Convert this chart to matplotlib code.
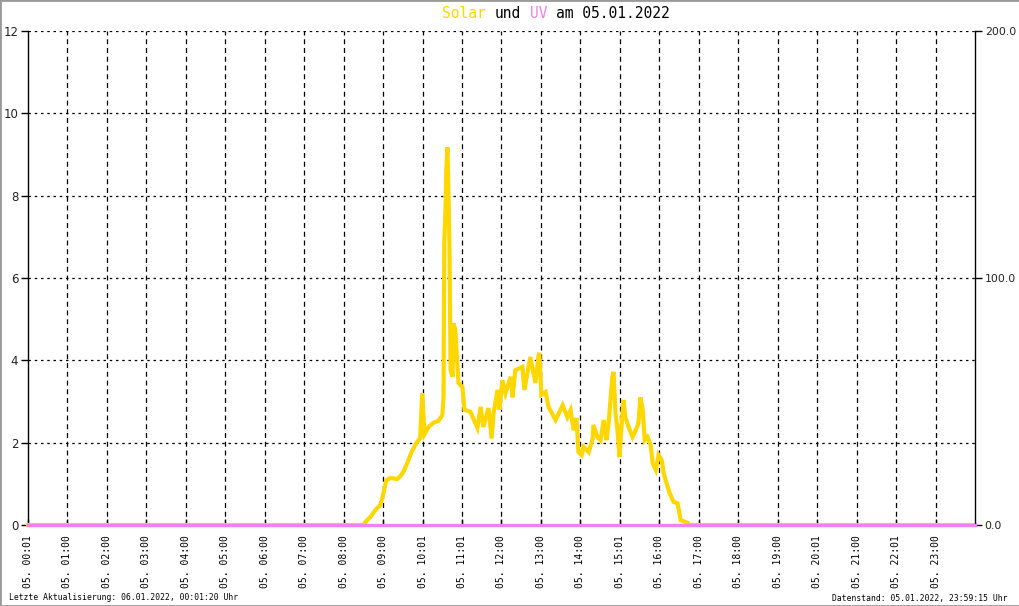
import matplotlib
matplotlib.use("Agg")
import matplotlib.pyplot as plt
from matplotlib.patches import Rectangle

# ---- data ----
solar_hours = [0.0, 8.50, 8.55, 8.68, 8.80, 8.93, 9.01, 9.08, 9.18, 9.36, 9.44, 9.51, 9.61,
               9.72, 9.84, 9.94, 9.99, 10.05, 10.10, 10.15, 10.27, 10.40, 10.50, 10.53,
               10.55, 10.58, 10.60, 10.63, 10.65, 10.68, 10.71, 10.76, 10.78, 10.83,
               10.88, 10.91, 11.01, 11.06, 11.21, 11.39, 11.47, 11.54, 11.67, 11.75,
               11.80, 11.90, 11.95, 12.02, 12.10, 12.23, 12.28, 12.35, 12.53, 12.58,
               12.73, 12.86, 12.94, 12.96, 13.01, 13.12, 13.19, 13.37, 13.55, 13.67,
               13.75, 13.83, 13.90, 13.95, 14.03, 14.08, 14.21, 14.31, 14.33, 14.43,
               14.51, 14.59, 14.66, 14.71, 14.81, 14.84, 14.89, 14.94, 14.99, 15.04,
               15.09, 15.14, 15.22, 15.32, 15.40, 15.47, 15.52, 15.58, 15.63, 15.70,
               15.78, 15.83, 15.91, 15.98, 16.06, 16.11, 16.18, 16.26, 16.36, 16.46,
               16.51, 16.54, 16.72, 16.74, 24.0]
solar_values = [0.0, 0.0, 0.07, 0.20, 0.36, 0.49, 0.78, 1.09, 1.14, 1.12, 1.19, 1.29, 1.50,
                1.77, 1.99, 2.11, 3.20, 2.21, 2.30, 2.38, 2.48, 2.53, 2.67, 3.10,
                6.85, 7.65, 8.60, 9.18, 8.38, 6.85, 3.76, 3.60, 4.90, 4.74,
                3.90, 3.45, 3.35, 2.80, 2.75, 2.36, 2.87, 2.38, 2.84, 2.10,
                2.72, 3.28, 2.80, 3.52, 3.20, 3.60, 3.10, 3.76, 3.84, 3.28,
                4.08, 3.45, 4.13, 4.18, 3.16, 3.23, 2.87, 2.55, 2.91, 2.62,
                2.79, 2.30, 2.60, 1.77, 1.70, 1.90, 1.77, 2.10, 2.43, 2.14,
                2.06, 2.55, 2.06, 2.43, 3.60, 3.72, 2.70, 2.30, 1.65, 2.38,
                3.04, 2.62, 2.38, 2.14, 2.30, 2.47, 3.10, 2.79, 2.06, 2.14,
                1.94, 1.50, 1.34, 1.70, 1.58, 1.26, 1.02, 0.78, 0.56, 0.53,
                0.29, 0.12, 0.05, 0.0, 0.0]
uv_hours = [0.0, 24.0]
uv_values = [0.0, 0.0]
tick_labels = ["05. 00:01", "05. 01:00", "05. 02:00", "05. 03:00", "05. 04:00", "05. 05:00",
               "05. 06:00", "05. 07:00", "05. 08:00", "05. 09:00", "05. 10:01", "05. 11:01",
               "05. 12:00", "05. 13:00", "05. 14:00", "05. 15:01", "05. 16:00", "05. 17:00",
               "05. 18:00", "05. 19:00", "05. 20:01", "05. 21:00", "05. 22:01", "05. 23:00"]

SOLAR = "#FFD700"
UV = "#EE82EE"
MONO = "DejaVu Sans Mono"

W, H = 1020, 606
fig = plt.figure(figsize=(W / 100, H / 100), dpi=100)
ax = fig.add_axes([28 / W, 1 - 525 / H, (975 - 28) / W, (525 - 31) / H])
ax2 = ax.twinx()

ax.plot(solar_hours, solar_values, color=SOLAR, lw=3.0, solid_joinstyle="miter",
        clip_on=False, zorder=3)
ax2.plot(uv_hours, uv_values, color=UV, lw=2.4, clip_on=False, zorder=5)

ax.set_xlim(0, 24)
ax.set_ylim(0, 12)
ax2.set_ylim(0, 200)

ax.set_xticks(range(24))
ax.set_xticklabels(tick_labels, rotation=90, fontsize=7, family=MONO)
ax.set_yticks(range(0, 13, 2))
ax.set_yticklabels([str(v) for v in range(0, 13, 2)], fontsize=8.5, color="#222222")
ax2.set_yticks([0, 100, 200])
ax2.set_yticklabels(["0.0", "100.0", "200.0"], fontsize=7.8, color="#222222")

ax.tick_params(axis="x", direction="in", length=4, width=1, pad=7)
ax.tick_params(axis="y", direction="out", length=5, width=1, pad=2)
ax2.tick_params(axis="y", direction="out", length=5, width=1, pad=2)

for a in (ax, ax2):
    a.spines["top"].set_visible(False)
    a.spines["bottom"].set_visible(False)
    for s in a.spines.values():
        s.set_linewidth(1)
ax2.spines["left"].set_visible(False)
ax.spines["right"].set_visible(False)

for h in range(1, 24):
    ax.axvline(h, color="black", lw=0.9, ls=(0, (4, 3)), zorder=1)
for v in range(2, 13, 2):
    ax.axhline(v, color="black", lw=0.9, ls=(0, (2, 3)), zorder=1)

# title in three colours (monospace, placed by character width)
fs_t = 10.5
cw = 0.602 * fs_t * 100 / 72 / W
tx, ty = 442 / W, 1 - 13 / H
parts = [("Solar", SOLAR, 0), ("und", "black", 6), ("UV", UV, 10), ("am 05.01.2022", "black", 13)]
for s, c, off in parts:
    fig.text(tx + off * cw, ty, s, family=MONO, fontsize=fs_t, color=c, va="center", ha="left")

fig.text(9 / W, 1 - 598 / H, "Letzte Aktualisierung: 06.01.2022, 00:01:20 Uhr", family=MONO,
         fontsize=5.8, va="center", ha="left")
fig.text(1008 / W, 1 - 598 / H, "Datenstand: 05.01.2022, 23:59:15 Uhr", family=MONO,
         fontsize=5.8, va="center", ha="right")

fig.patches.append(Rectangle((0, 0), 1, 1, transform=fig.transFigure, fill=False,
                             edgecolor="#999999", lw=2))

fig.savefig("out.png", dpi=100)
